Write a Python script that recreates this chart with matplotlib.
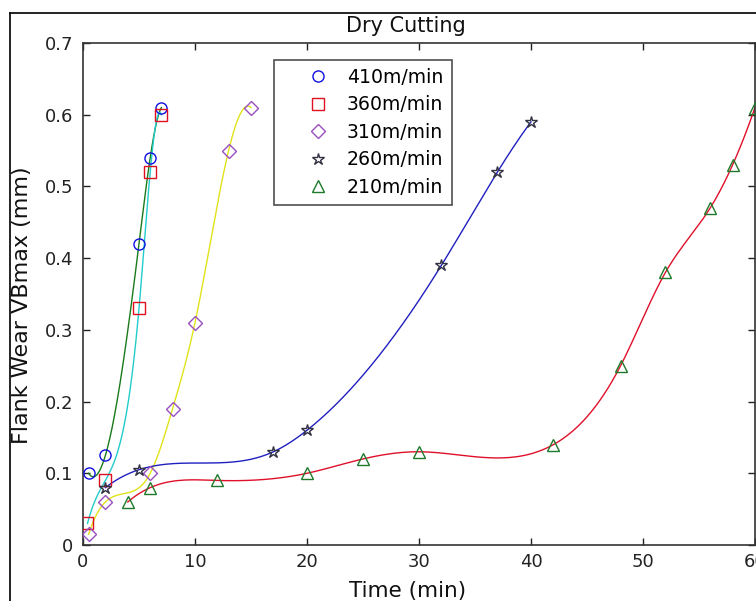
import numpy as np
import matplotlib
matplotlib.use("Agg")
import matplotlib.pyplot as plt
from matplotlib.lines import Line2D

# ---------------- data ----------------
labels = ["410m/min", "360m/min", "310m/min", "260m/min", "210m/min"]

t_410 = [0.5, 2, 5, 6, 7]
vb_410 = [0.10, 0.125, 0.42, 0.54, 0.61]

t_360 = [0.4, 2, 5, 6, 7]
vb_360 = [0.03, 0.09, 0.33, 0.52, 0.60]

t_310 = [0.5, 2, 6, 8, 10, 13, 15]
vb_310 = [0.015, 0.06, 0.10, 0.19, 0.31, 0.55, 0.61]

t_260 = [2, 5, 17, 20, 32, 37, 40]
vb_260 = [0.08, 0.105, 0.13, 0.16, 0.39, 0.52, 0.59]

t_210 = [4, 6, 12, 20, 25, 30, 42, 48, 52, 56, 58, 60]
vb_210 = [0.06, 0.08, 0.09, 0.10, 0.12, 0.13, 0.14, 0.25, 0.38, 0.47, 0.53, 0.61]

x_ticks = [0, 10, 20, 30, 40, 50, 60]
y_ticks = [0, 0.1, 0.2, 0.3, 0.4, 0.5, 0.6, 0.7]
y_ticklabels = ["0", "0.1", "0.2", "0.3", "0.4", "0.5", "0.6", "0.7"]


def spline_curve(x, y, num=300):
    """Not-a-knot cubic spline through the points (smooth connecting line)."""
    x = np.asarray(x, float)
    y = np.asarray(y, float)
    n = len(x)
    h = np.diff(x)
    A = np.zeros((n, n))
    b = np.zeros(n)
    A[0, 0] = h[1]
    A[0, 1] = -(h[0] + h[1])
    A[0, 2] = h[0]
    for i in range(1, n - 1):
        A[i, i - 1] = h[i - 1]
        A[i, i] = 2 * (h[i - 1] + h[i])
        A[i, i + 1] = h[i]
        b[i] = 6 * ((y[i + 1] - y[i]) / h[i] - (y[i] - y[i - 1]) / h[i - 1])
    A[-1, -3] = h[-1]
    A[-1, -2] = -(h[-2] + h[-1])
    A[-1, -1] = h[-2]
    M = np.linalg.solve(A, b)
    xs = np.linspace(x[0], x[-1], num)
    idx = np.clip(np.searchsorted(x, xs) - 1, 0, n - 2)
    xi, xi1 = x[idx], x[idx + 1]
    hi = xi1 - xi
    t1 = xi1 - xs
    t2 = xs - xi
    ys = (M[idx] * t1 ** 3 / (6 * hi) + M[idx + 1] * t2 ** 3 / (6 * hi)
          + (y[idx] / hi - M[idx] * hi / 6) * t1
          + (y[idx + 1] / hi - M[idx + 1] * hi / 6) * t2)
    return xs, ys


plt.rcParams["font.family"] = ["DejaVu Sans"]

W, H = 756, 601
fig = plt.figure(figsize=(W / 100, H / 100), dpi=100)
ax = fig.add_axes([83 / W, (H - 545) / H, (755 - 83) / W, (545 - 43) / H])

series = [
    (t_410, vb_410, "#1a7a1a", "o", "#1010e0", 8.0),
    (t_360, vb_360, "#22cccc", "s", "#e01020", 8.0),
    (t_310, vb_310, "#e2e21a", "D", "#9a4ec0", 6.8),
    (t_260, vb_260, "#2020c0", "*", "#333344", 9.0),
    (t_210, vb_210, "#e0102a", "^", "#1e7a2a", 9.0),
]

for (tx, vy, lc, mk, mc, ms) in series:
    xs, ys = spline_curve(tx, vy)
    ax.plot(xs, ys, color=lc, lw=1.0, zorder=2)

for (tx, vy, lc, mk, mc, ms), lab in zip(series, labels):
    ax.plot(tx, vy, linestyle="none", marker=mk, markersize=ms,
            markerfacecolor="none", markeredgecolor=mc, markeredgewidth=1.0,
            zorder=3)

ax.set_xlim(0, 60)
ax.set_ylim(0, 0.7)
ax.set_xticks(x_ticks)
ax.set_yticks(y_ticks)
ax.set_yticklabels(y_ticklabels)
ax.tick_params(direction="in", length=5, width=1.0, top=True, right=True,
               labelsize=13, colors="#222222")
ax.tick_params(axis="y", pad=7.0)
ax.tick_params(axis="x", pad=5.5)
for sp in ax.spines.values():
    sp.set_linewidth(1.2)
    sp.set_color("#333333")

# legend (markers only)
handles = [Line2D([], [], linestyle="none", marker=mk, markersize=ms,
                  markerfacecolor="none", markeredgecolor=mc,
                  markeredgewidth=1.0)
           for (tx, vy, lc, mk, mc, ms) in series]
leg = fig.legend(handles, labels, loc="upper left",
                 bbox_to_anchor=(274 / W, 1 - 60 / H), borderaxespad=0,
                 fontsize=13.6, frameon=True, fancybox=False,
                 handlelength=3.8, handletextpad=-0.35, borderpad=0.42,
                 labelspacing=0.45)
leg.get_frame().set_edgecolor("#222222")
leg.get_frame().set_linewidth(1.2)

# texts
fig.text(406 / W, 1 - 31.5 / H, "Dry Cutting", ha="center", va="baseline",
         fontsize=15, color="#111111")
fig.text(407.5 / W, 1 - 597 / H, "Time (min)", ha="center", va="baseline",
         fontsize=15.5, color="#111111")
fig.text(28 / W, 1 - 305 / H, "Flank Wear VBmax (mm)", rotation=90,
         rotation_mode="anchor", ha="center", va="baseline",
         fontsize=16, color="#111111")

# outer frame (cropped figure border)
fig.add_artist(Line2D([10 / W, 10 / W], [0, 1 - 13 / H],
                      transform=fig.transFigure, color="#111111", lw=1.3))
fig.add_artist(Line2D([10 / W, 1], [1 - 13 / H, 1 - 13 / H],
                      transform=fig.transFigure, color="#111111", lw=1.3))

fig.savefig("out.png", dpi=100)
